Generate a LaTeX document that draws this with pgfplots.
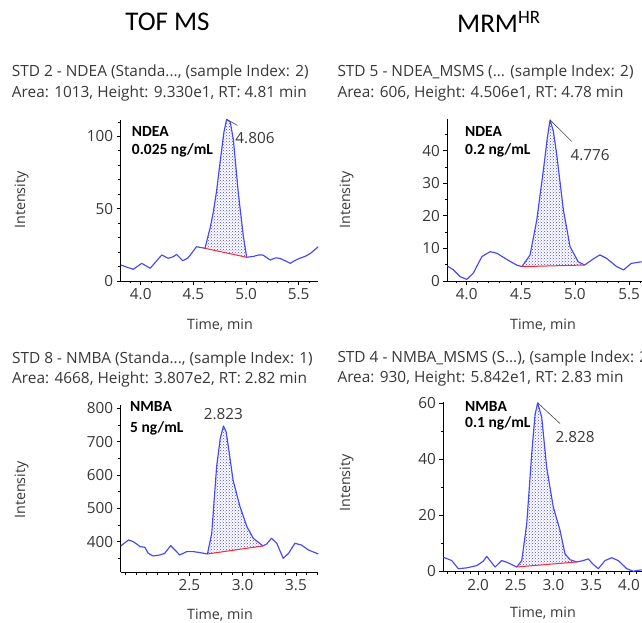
\documentclass[border=0pt]{standalone}
\usepackage{fontspec}
\setmainfont{Open Sans}
\newfontfamily\calib{Carlito}
\usepackage{pgfplots}
\pgfplotsset{compat=1.18}
\usetikzlibrary{patterns}
\definecolor{curve}{RGB}{70,70,255}
\definecolor{base}{RGB}{255,40,40}
\definecolor{txt}{RGB}{55,55,55}
\definecolor{lead}{RGB}{70,70,70}
\pgfplotsset{chrom/.style={
  scale only axis,
  axis lines=left, axis line style={-, black, line width=0.9pt},
  tick align=outside, major tick length=4pt, minor tick length=2.5pt,
  tick style={black, line width=0.7pt},
  tick label style={font=\fontsize{15.3}{17}\selectfont, text=txt},
  /pgf/number format/assume math mode=true,
  x tick label style={/pgf/number format/fixed, /pgf/number format/fixed zerofill, /pgf/number format/precision=1},
  y tick label style={/pgf/number format/fixed, /pgf/number format/precision=0},
  clip mode=individual,
  scaled ticks=false,
  anchor=south west,
}}
\tikzset{ttl/.style={anchor=west, font=\fontsize{15.4}{17}\selectfont, text=txt, inner sep=0pt},
  lab/.style={font=\fontsize{14.3}{16}\selectfont, text=txt, inner sep=0pt},
  bl/.style={anchor=west, font=\calib\bfseries\fontsize{15.5}{17}\selectfont, inner sep=0pt},
  pk/.style={font=\fontsize{15.3}{17}\selectfont, text=txt, inner sep=0pt},
  crv/.style={curve, line width=1.15pt, line join=round}}
\begin{document}
\begin{tikzpicture}[x=1pt,y=1pt]
\useasboundingbox (0,0) rectangle (642,623);
\clip (0,0) rectangle (642,623);
% ---------------- Panel 1: TOF MS NDEA
\begin{axis}[chrom, at={(120.7pt,342pt)}, width=197.6pt, height=161pt,
  xmin=3.81, xmax=5.686, ymin=0, ymax=111.3,
  xtick={4.0,4.5,5.0,5.5}, minor xtick={3.9,4.1,4.2,4.3,4.4,4.6,4.7,4.8,4.9,5.1,5.2,5.3,5.4,5.6},
  ytick={0,50,100}, minor ytick={10,20,30,40,60,70,80,90,110}]
\addplot[draw=none, pattern=crosshatch dots, pattern color=curve] coordinates {
(4.61,22.6)(4.66,37)(4.69,48)(4.72,62)(4.75,80)(4.79,103)(4.816,111.7)(4.85,110)(4.88,97.5)(4.927,60.6)(4.975,30.6)(5.006,16.4)} -- cycle;
\addplot[crv] coordinates {
(3.81,11.1)(3.87,9.5)(3.93,8.1)(4.01,12.2)(4.09,8.8)(4.14,13)(4.20,18)(4.26,15.7)(4.31,16.8)(4.34,18.4)(4.40,14)(4.45,16)(4.53,23.7)(4.61,22.6)(4.66,37)(4.69,48)(4.72,62)(4.75,80)(4.79,103)(4.816,111.7)(4.85,110)(4.88,97.5)(4.927,60.6)(4.975,30.6)(5.006,16.4)(5.07,17)(5.12,18)(5.16,18)(5.23,14.5)(5.28,16)(5.32,15.7)(5.37,14)(5.42,12.2)(5.46,14)(5.51,15.7)(5.56,17)(5.61,19)(5.686,23.7)};
\addplot[base, line width=1pt] coordinates {(4.61,22.6)(5.006,16.4)};
\draw[lead, line width=0.6pt] (axis cs:4.816,111.7) -- (axis cs:4.918,107.6);
\node[pk] at (axis cs:5.085,98.6) {4.806};
\end{axis}
% ---------------- Panel 2: MRM NDEA
\begin{axis}[chrom, at={(447.3pt,342pt)}, width=194.4pt, height=161.7pt,
  xmin=3.82, xmax=5.617, ymin=0, ymax=49.6,
  xtick={4.0,4.5,5.0,5.5}, minor xtick={3.9,4.1,4.2,4.3,4.4,4.6,4.7,4.8,4.9,5.1,5.2,5.3,5.4,5.6},
  ytick={0,10,20,30,40}, minor ytick={5,15,25,35,45}]
\addplot[draw=none, pattern=crosshatch dots, pattern color=curve] coordinates {
(4.51,4.4)(4.585,8)(4.647,18.7)(4.708,34)(4.745,44)(4.77,49.4)(4.80,46)(4.83,39.2)(4.893,21.8)(4.955,10.5)(5.03,5.9)(5.09,4.9)} -- cycle;
\addplot[crv] coordinates {
(3.82,4.6)(3.877,3.4)(3.94,1.3)(4.0,0.5)(4.06,2.4)(4.14,7.5)(4.216,9.0)(4.28,8.5)(4.37,6.6)(4.46,4.9)(4.51,4.4)(4.585,8)(4.647,18.7)(4.708,34)(4.745,44)(4.77,49.4)(4.80,46)(4.83,39.2)(4.893,21.8)(4.955,10.5)(5.03,5.9)(5.09,4.9)(5.17,6.8)(5.23,8)(5.29,7)(5.386,4.4)(5.45,3.4)(5.52,5.4)(5.617,5.9)};
\addplot[base, line width=1pt] coordinates {(4.51,4.4)(5.09,4.9)};
\draw[lead, line width=0.6pt] (axis cs:4.77,49.4) -- (axis cs:4.97,42.8);
\node[pk] at (axis cs:5.14,38.7) {4.776};
\end{axis}
% ---------------- Panel 3: TOF MS NMBA
\begin{axis}[chrom, at={(120.7pt,50.7pt)}, width=197.6pt, height=167.3pt,
  xmin=1.857, xmax=3.709, ymin=308, ymax=810,
  xtick={2.5,3.0,3.5}, minor xtick={1.9,2.0,2.1,2.2,2.3,2.4,2.6,2.7,2.8,2.9,3.1,3.2,3.3,3.4,3.6,3.7},
  ytick={400,500,600,700,800}, minor ytick={350,450,550,650,750}]
\addplot[draw=none, pattern=crosshatch dots, pattern color=curve] coordinates {
(2.67,363)(2.71,425)(2.756,625)(2.79,710)(2.82,747)(2.845,730)(2.866,685)(2.91,585)(2.975,505)(3.04,445)(3.1,410)(3.19,387)} -- cycle;
\addplot[crv] coordinates {
(1.857,387)(1.93,405)(1.975,400)(2.04,385)(2.084,383)(2.115,365)(2.16,357)(2.225,360)(2.27,365)(2.325,388)(2.366,375)(2.41,360)(2.475,370)(2.54,370)(2.6,367)(2.67,363)(2.71,425)(2.756,625)(2.79,710)(2.82,747)(2.845,730)(2.866,685)(2.91,585)(2.975,505)(3.04,445)(3.1,410)(3.19,387)(3.225,393)(3.27,410)(3.32,395)(3.38,350)(3.43,365)(3.49,395)(3.55,390)(3.616,375)(3.709,363)};
\addplot[base, line width=1pt] coordinates {(2.67,363)(3.19,387)};
\node[pk] at (axis cs:2.819,783) {2.823};
\end{axis}
% ---------------- Panel 4: MRM NMBA
\begin{axis}[chrom, at={(443.3pt,51.5pt)}, width=198.4pt, height=169.8pt,
  xmin=1.54, xmax=4.168, ymin=0, ymax=60.6,
  xtick={2.0,2.5,3.0,3.5,4.0}, minor xtick={1.6,1.7,1.8,1.9,2.1,2.2,2.3,2.4,2.6,2.7,2.8,2.9,3.1,3.2,3.3,3.4,3.6,3.7,3.8,3.9,4.1},
  ytick={0,20,40,60}, minor ytick={10,30,50}]
\addplot[draw=none, pattern=crosshatch dots, pattern color=curve] coordinates {
(2.512,1.6)(2.579,3.9)(2.645,17)(2.711,42)(2.755,56)(2.79,60.2)(2.844,55)(2.91,37)(2.997,23)(3.086,14.7)(3.152,6.3)(3.219,4.2)(3.307,3.4)} -- cycle;
\addplot[crv] coordinates {
(1.54,5.1)(1.652,3.9)(1.739,1.0)(1.85,1.3)(1.983,2.1)(2.07,3.7)(2.115,5.4)(2.159,3.9)(2.225,1.6)(2.314,3.9)(2.38,3.3)(2.446,2.5)(2.512,1.6)(2.579,3.9)(2.645,17)(2.711,42)(2.755,56)(2.79,60.2)(2.844,55)(2.91,37)(2.997,23)(3.086,14.7)(3.152,6.3)(3.219,4.2)(3.307,3.4)(3.395,3.9)(3.46,4.5)(3.527,2.5)(3.593,1.0)(3.682,3.9)(3.77,4.9)(3.858,3.9)(3.97,1.0)(4.057,0.1)(4.168,0.6)};
\addplot[base, line width=1pt] coordinates {(2.512,1.6)(3.307,3.4)};
\draw[lead, line width=0.6pt] (axis cs:2.79,60.2) -- (axis cs:3.086,52.8);
\node[pk] at (axis cs:3.285,48.1) {2.828};
\end{axis}
% ---------------- texts
\node[font=\calib\fontsize{27}{30}\selectfont] at (167.5,601) {TOF MS};
\node[font=\calib\fontsize{27}{30}\selectfont, anchor=west, inner sep=0pt] at (457,601) {MRM\textsuperscript{HR}};
\node[ttl] at (11.7,550.3) {STD 2 - NDEA (Standa..., (sample Index: 2)};
\node[ttl] at (11.7,529.7) {Area: 1013, Height: 9.330e1, RT: 4.81 min};
\node[ttl] at (337.3,550.3) {STD 5 - NDEA\_MSMS (... (sample Index: 2)};
\node[ttl] at (337.3,529.7) {Area: 606, Height: 4.506e1, RT: 4.78 min};
\node[ttl] at (12,263) {STD 8 - NMBA (Standa..., (sample Index: 1)};
\node[ttl] at (12,243) {Area: 4668, Height: 3.807e2, RT: 2.82 min};
\node[ttl] at (337.3,264) {STD 4 - NMBA\_MSMS (S...), (sample Index: 2)};
\node[ttl] at (337.3,244) {Area: 930, Height: 5.842e1, RT: 2.83 min};
\node[bl] at (131.7,491.3) {NDEA};
\node[bl] at (131.7,473) {0.025 ng/mL};
\node[bl] at (465,491.3) {NDEA};
\node[bl] at (465,473) {0.2 ng/mL};
\node[bl] at (130,216.3) {NMBA};
\node[bl] at (130,194.7) {5 ng/mL};
\node[bl] at (465,216.3) {NMBA};
\node[bl] at (465,199.7) {0.1 ng/mL};
\node[lab, rotate=90] at (21.7,423) {Intensity};
\node[lab, rotate=90] at (346.7,423) {Intensity};
\node[lab, rotate=90] at (21.7,133) {Intensity};
\node[lab, rotate=90] at (346.7,140) {Intensity};
\node[lab] at (220,298) {Time, min};
\node[lab] at (543,298) {Time, min};
\node[lab] at (220,8) {Time, min};
\node[lab] at (543,10) {Time, min};
\end{tikzpicture}
\end{document}
